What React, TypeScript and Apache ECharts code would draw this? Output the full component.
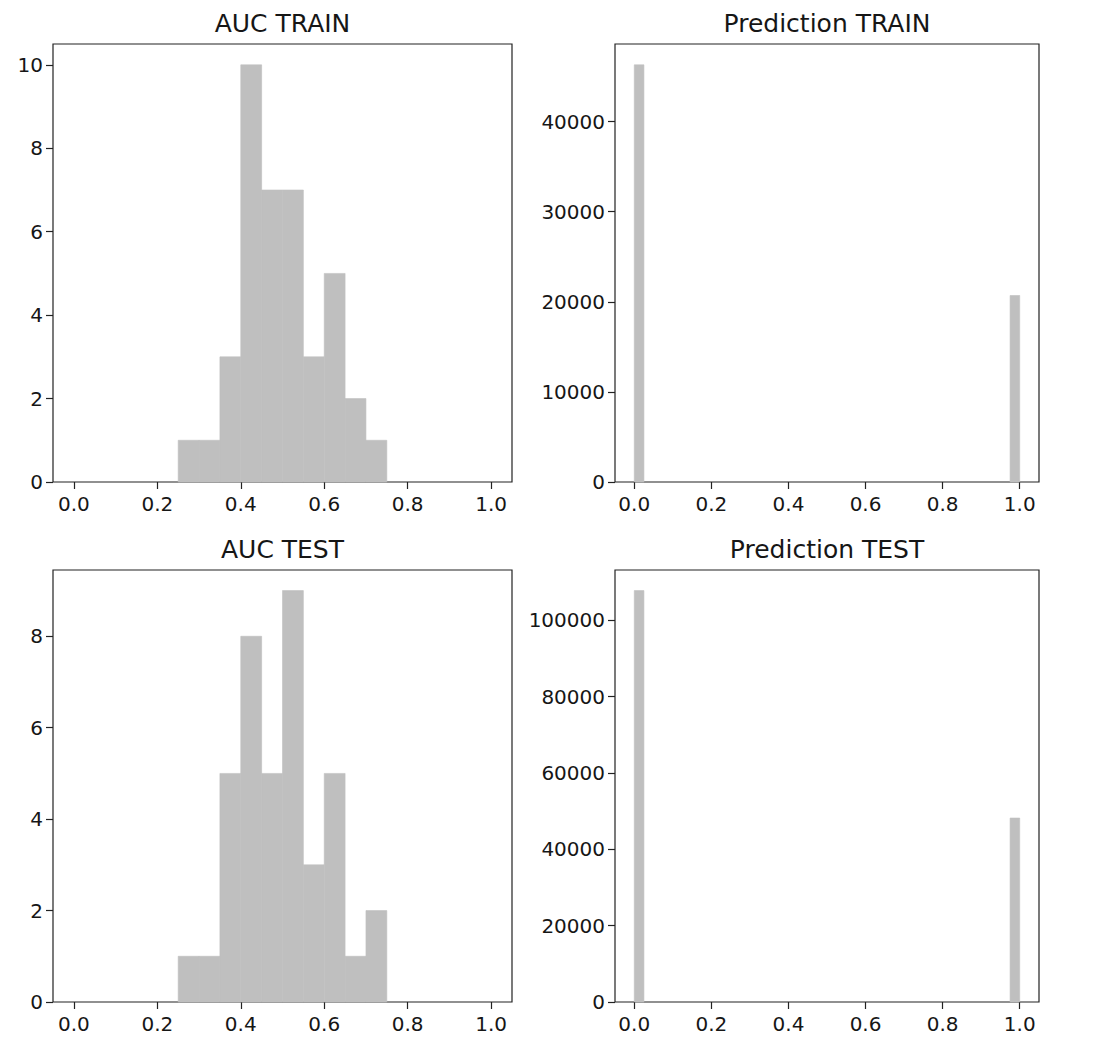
import React, { useEffect, useRef } from "react";
import * as echarts from "echarts";

// ---- data ----
const aucBinEdges = [0, 0.05, 0.1, 0.15, 0.2, 0.25, 0.3, 0.35, 0.4, 0.45, 0.5, 0.55, 0.6, 0.65, 0.7, 0.75, 0.8, 0.85, 0.9, 0.95, 1.0];
const aucTrainCounts = [0, 0, 0, 0, 0, 1, 1, 3, 10, 7, 7, 3, 5, 2, 1, 0, 0, 0, 0, 0];
const aucTestCounts = [0, 0, 0, 0, 0, 1, 1, 5, 8, 5, 9, 3, 5, 1, 2, 0, 0, 0, 0, 0];

const predBinEdges = [
  0, 0.025, 0.05, 0.075, 0.1, 0.125, 0.15, 0.175, 0.2, 0.225,
  0.25, 0.275, 0.3, 0.325, 0.35, 0.375, 0.4, 0.425, 0.45, 0.475,
  0.5, 0.525, 0.55, 0.575, 0.6, 0.625, 0.65, 0.675, 0.7, 0.725,
  0.75, 0.775, 0.8, 0.825, 0.85, 0.875, 0.9, 0.925, 0.95, 0.975, 1.0,
];
const predTrainCounts = [
  46300, 0, 0, 0, 0, 0, 0, 0, 0, 0,
  0, 0, 0, 0, 0, 0, 0, 0, 0, 0,
  0, 0, 0, 0, 0, 0, 0, 0, 0, 0,
  0, 0, 0, 0, 0, 0, 0, 0, 0, 20700,
];
const predTestCounts = [
  107800, 0, 0, 0, 0, 0, 0, 0, 0, 0,
  0, 0, 0, 0, 0, 0, 0, 0, 0, 0,
  0, 0, 0, 0, 0, 0, 0, 0, 0, 0,
  0, 0, 0, 0, 0, 0, 0, 0, 0, 48200,
];

const xTicks = [0, 0.2, 0.4, 0.6, 0.8, 1.0];
const aucTrainYTicks = [0, 2, 4, 6, 8, 10];
const aucTestYTicks = [0, 2, 4, 6, 8];
const predTrainYTicks = [0, 10000, 20000, 30000, 40000];
const predTestYTicks = [0, 20000, 40000, 60000, 80000, 100000];

const titles = ["AUC TRAIN", "Prediction TRAIN", "AUC TEST", "Prediction TEST"];

// ---- layout ----
const W = 1103;
const H = 1047;
const grids = [
  { left: 53, top: 44, width: 459, height: 438 },
  { left: 615, top: 44, width: 424, height: 438 },
  { left: 53, top: 570, width: 459, height: 432 },
  { left: 615, top: 570, width: 424, height: 432 },
];

const FONT = "DejaVu Sans";
const TEXT = "#161616";
const LINE = "#222";
const BAR = "#bfbfbf";

function toBins(edges: number[], counts: number[]) {
  const out: number[][] = [];
  for (let i = 0; i < counts.length; i++) {
    if (counts[i] > 0) out.push([edges[i], edges[i + 1], counts[i]]);
  }
  return out;
}

export default function App() {
  const ref = useRef<HTMLDivElement>(null);
  useEffect(() => {
    if (!ref.current) return;
    const chart = echarts.init(ref.current, undefined, { renderer: "svg" });

    const panels = [
      { bins: toBins(aucBinEdges, aucTrainCounts), max: 10 * 1.05, yTicks: aucTrainYTicks },
      { bins: toBins(predBinEdges, predTrainCounts), max: 46300 * 1.05, yTicks: predTrainYTicks },
      { bins: toBins(aucBinEdges, aucTestCounts), max: 9 * 1.05, yTicks: aucTestYTicks },
      { bins: toBins(predBinEdges, predTestCounts), max: 107800 * 1.05, yTicks: predTestYTicks },
    ];

    const option: any = {
      animation: false,
      backgroundColor: "#ffffff",
      grid: grids.map((g) => ({
        ...g,
        show: true,
        borderColor: LINE,
        borderWidth: 1.2,
        backgroundColor: "transparent",
        containLabel: false,
      })),
      xAxis: panels.map((p, i) => ({
        type: "value",
        gridIndex: i,
        position: "bottom",
        min: -0.05,
        max: 1.05,
        splitLine: { show: false },
        axisLine: { show: false, onZero: false },
        axisTick: {
          show: true,
          inside: false,
          length: 7,
          customValues: xTicks,
          lineStyle: { color: LINE, width: 1.2 },
        },
        axisLabel: {
          show: true,
          customValues: xTicks,
          margin: 12,
          fontFamily: FONT,
          fontSize: 20,
          color: TEXT,
          formatter: (v: number) => v.toFixed(1),
        },
      })),
      yAxis: panels.map((p, i) => ({
        type: "value",
        gridIndex: i,
        position: "left",
        min: 0,
        max: p.max,
        splitLine: { show: false },
        axisLine: { show: false, onZero: false },
        axisTick: {
          show: true,
          inside: false,
          length: 7,
          customValues: p.yTicks,
          lineStyle: { color: LINE, width: 1.2 },
        },
        axisLabel: {
          show: true,
          customValues: p.yTicks,
          margin: 10,
          fontFamily: FONT,
          fontSize: 20,
          color: TEXT,
          formatter: (v: number) => String(v),
        },
      })),
      series: panels.map((p, i) => ({
        type: "custom",
        xAxisIndex: i,
        yAxisIndex: i,
        data: p.bins,
        z: 1,
        renderItem: (params: any, api: any) => {
          const tl = api.coord([api.value(0), api.value(2)]);
          const br = api.coord([api.value(1), 0]);
          return {
            type: "rect",
            shape: { x: tl[0], y: tl[1], width: br[0] - tl[0], height: br[1] - tl[1] },
            style: { fill: BAR, stroke: BAR, lineWidth: 0.6 },
          };
        },
      })),
      graphic: grids.map((g, i) => ({
        type: "text",
        x: g.left + g.width / 2,
        y: g.top - 21,
        style: {
          text: titles[i],
          fontFamily: FONT,
          fontSize: 25,
          fill: TEXT,
          textAlign: "center",
          textVerticalAlign: "middle",
        },
      })),
    };
    chart.setOption(option);
    return () => chart.dispose();
  }, []);

  return (
    <div
      ref={ref}
      style={{ position: "absolute", left: 0, top: 0, width: W, height: H, background: "#fff" }}
    />
  );
}
